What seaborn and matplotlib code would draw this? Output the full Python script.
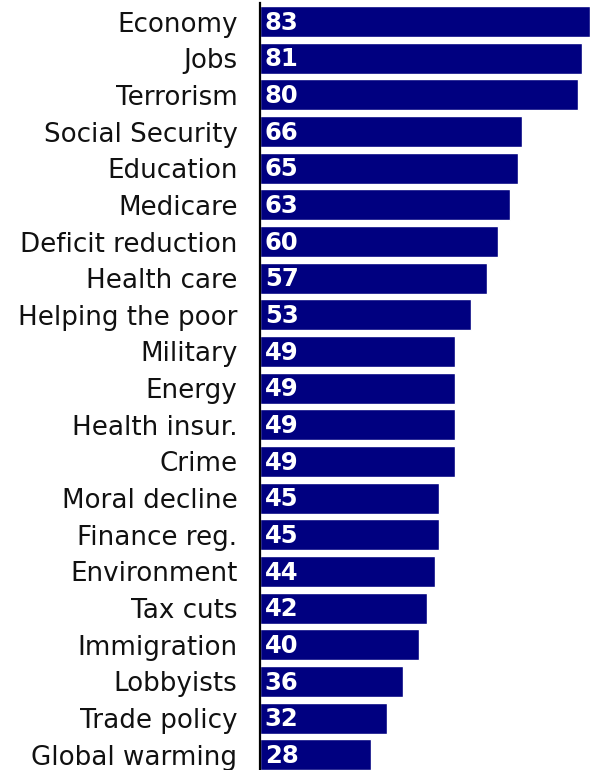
import matplotlib
matplotlib.use("Agg")
import matplotlib.pyplot as plt
import seaborn as sns
import pandas as pd

# issue priorities (percent rating each as very important)
issues = ["Economy", "Jobs", "Terrorism", "Social Security", "Education",
          "Medicare", "Deficit reduction", "Health care", "Helping the poor",
          "Military", "Energy", "Health insur.", "Crime", "Moral decline",
          "Finance reg.", "Environment", "Tax cuts", "Immigration",
          "Lobbyists", "Trade policy", "Global warming"]
pct = [83, 81, 80, 66, 65, 63, 60, 57, 53, 49, 49, 49, 49, 45, 45, 44,
       42, 40, 36, 32, 28]

df = pd.DataFrame({"issue": issues, "pct": pct})

sns.set_style("white")
plt.rcParams["font.family"] = ["DejaVu Sans"]

fig = plt.figure(figsize=(5.9, 7.7), dpi=100)
ax = fig.add_axes([0.44, -0.004, 0.56, 0.9998])

sns.barplot(data=df, x="pct", y="issue", orient="h", color="#000080",
            saturation=1, width=0.85, ax=ax)

for i, v in enumerate(pct):
    ax.text(1.3, i + 0.03, str(v), color="white", fontsize=17.5,
            fontweight="bold", va="center", ha="left")

ax.set_xlim(0, 83)
ax.set_xlabel("")
ax.set_ylabel("")
ax.set_xticks([])
ax.tick_params(axis="y", length=0, pad=16, labelsize=18.8, labelcolor="#111111")
for s in ["top", "right", "bottom"]:
    ax.spines[s].set_visible(False)
ax.spines["left"].set_color("black")
ax.spines["left"].set_linewidth(1.6)
ax.spines["left"].set_zorder(5)

fig.savefig("out.png", dpi=100)
